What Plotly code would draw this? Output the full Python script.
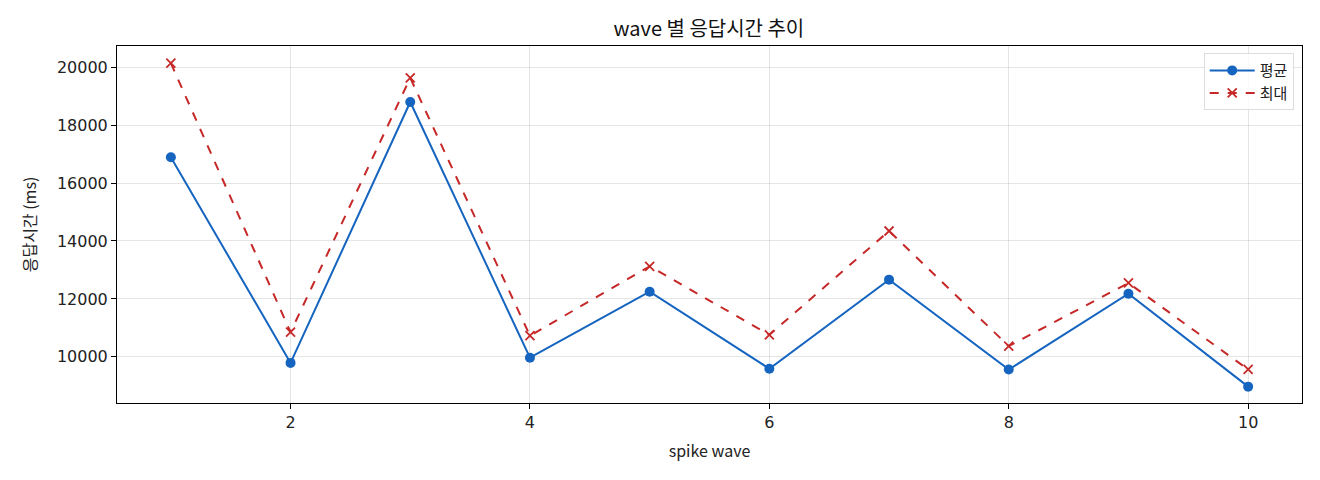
import plotly.graph_objects as go

# wave 번호
waves = [1, 2, 3, 4, 5, 6, 7, 8, 9, 10]

# 응답시간 (ms)
avg_ms = [16890, 9790, 18800, 9970, 12250, 9590, 12665, 9560, 12180, 8970]
max_ms = [20140, 10850, 19630, 10730, 13125, 10760, 14345, 10370, 12550, 9565]

FONT = "Noto Sans CJK KR, Noto Sans, sans-serif"
TICK_FONT = "DejaVu Sans, Noto Sans, sans-serif"

fig = go.Figure()

fig.add_trace(go.Scatter(
    x=waves, y=avg_ms, name='평균', mode='lines+markers',
    line=dict(color='#1565C0', width=2),
    marker=dict(symbol='circle', size=10, color='#1565C0'),
))

fig.add_trace(go.Scatter(
    x=waves, y=max_ms, name='최대', mode='lines+markers',
    line=dict(color='#C62828', width=2, dash='dash'),
    marker=dict(symbol='x-thin', size=9, line=dict(color='#C62828', width=1.8)),
))

axis_style = dict(
    showline=True, linecolor='black', linewidth=1, mirror=True,
    ticks='outside', ticklen=5, tickcolor='black',
    showgrid=True, gridcolor='rgba(0,0,0,0.1)', gridwidth=1,
    zeroline=False, tickfont=dict(family=TICK_FONT, size=16, color='#222'),
)

fig.update_layout(
    width=1320, height=480,
    paper_bgcolor='white', plot_bgcolor='white',
    font=dict(family=FONT, color='#222'),
    margin=dict(l=109, r=26, t=38, b=85),
    title=dict(text='wave 별 응답시간 추이', x=0.531, xanchor='center',
               y=0.956, yanchor='middle', font=dict(size=20, color='#111')),
    xaxis=dict(axis_style, range=[0.55, 10.45], tickvals=[2, 4, 6, 8, 10],
               title=dict(text='spike wave', font=dict(size=16), standoff=14)),
    yaxis=dict(axis_style, range=[8406, 20732], tickformat='d',
               tickvals=[10000, 12000, 14000, 16000, 18000, 20000],
               title=dict(text='응답시간 (ms)', font=dict(size=16), standoff=16)),
    legend=dict(x=0.993, y=0.98, xanchor='right', yanchor='top',
                bgcolor='rgba(255,255,255,0.8)', bordercolor='#ddd', borderwidth=1,
                font=dict(size=15), itemwidth=45, tracegroupgap=4),
    showlegend=True,
)

fig.write_html("out.html")
